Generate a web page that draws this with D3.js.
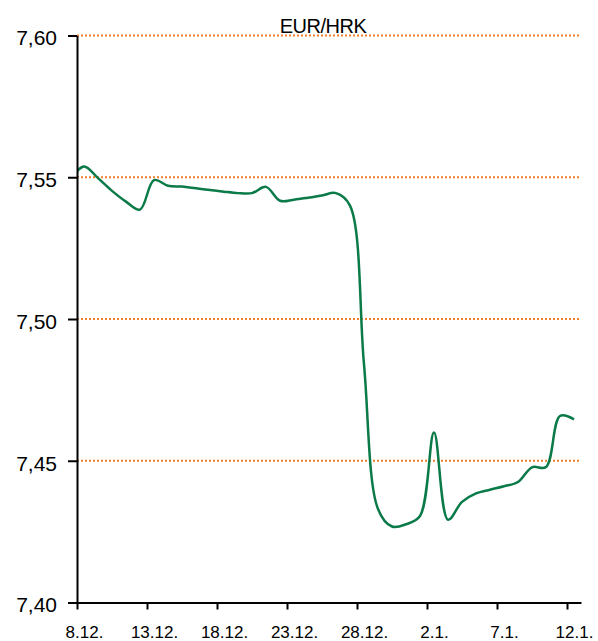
<!DOCTYPE html>
<html>
<head>
<script src="https://d3js.org/d3.v7.min.js"></script>
<style>
  body { margin: 0; background: #fff; font-family: 'Liberation Sans', Arial, sans-serif; }
</style>
</head>
<body>
<div id="container"></div>
<script>
// daily EUR/HRK values, one per calendar day (first one runs off the left edge)
const dates = [
  "2017-12-07",
  "2017-12-08", "2017-12-09", "2017-12-10", "2017-12-11", "2017-12-12", "2017-12-13",
  "2017-12-14", "2017-12-15", "2017-12-16", "2017-12-17", "2017-12-18", "2017-12-19",
  "2017-12-20", "2017-12-21", "2017-12-22", "2017-12-23", "2017-12-24", "2017-12-25",
  "2017-12-26", "2017-12-27", "2017-12-28", "2017-12-29", "2017-12-30", "2017-12-31",
  "2018-01-01", "2018-01-02", "2018-01-03", "2018-01-04", "2018-01-05", "2018-01-06",
  "2018-01-07", "2018-01-08", "2018-01-09", "2018-01-10", "2018-01-11", "2018-01-12"
];
const rates = [
  7.5490,
  7.5538, 7.5497, 7.5452, 7.5414, 7.5386, 7.5490,
  7.5470, 7.5467, 7.5461, 7.5455, 7.5449, 7.5444,
  7.5444, 7.5466, 7.5417, 7.5421, 7.5428, 7.5436,
  7.5444, 7.5400, 7.4840, 7.4330, 7.4268, 7.4276,
  7.4305, 7.4600, 7.4292, 7.4355, 7.4385, 7.4398,
  7.4410, 7.4425, 7.4477, 7.4478, 7.4658, 7.4646
];
const tickDates = ["2017-12-08", "2017-12-13", "2017-12-18", "2017-12-23", "2017-12-28", "2018-01-02", "2018-01-07", "2018-01-12"];
const tickLabels = ["8.12.", "13.12.", "18.12.", "23.12.", "28.12.", "2.1.", "7.1.", "12.1."];
const yTicks = [7.40, 7.45, 7.50, 7.55, 7.60];
const title = "EUR/HRK";

const width = 598, height = 641;
const plotLeft = 77, plotRight = 581, plotTop = 35.5, plotBottom = 602.5;

const parse = d3.timeParse("%Y-%m-%d");
const data = dates.map((d, i) => ({ date: d3.timeHour.offset(parse(d), 12), value: rates[i] }));

const svg = d3.select("#container").append("svg")
  .attr("width", width)
  .attr("height", height);

const x = d3.scaleTime()
  .domain([parse("2017-12-08"), parse("2018-01-13")])
  .range([plotLeft, plotRight]);
const y = d3.scaleLinear()
  .domain([7.40, 7.60])
  .range([plotBottom, plotTop]);

svg.append("clipPath")
  .attr("id", "plot")
  .append("rect")
  .attr("x", plotLeft)
  .attr("y", 0)
  .attr("width", plotRight - plotLeft)
  .attr("height", height);

// dotted gridlines
svg.append("g")
  .selectAll("line")
  .data(yTicks.filter(v => v > 7.40))
  .join("line")
  .attr("x1", plotLeft)
  .attr("x2", plotRight)
  .attr("y1", d => y(d))
  .attr("y2", d => y(d))
  .attr("stroke", "#f07d28")
  .attr("stroke-width", 2)
  .attr("stroke-dasharray", "2,2");

const line = d3.line()
  .x(d => x(d.date))
  .y(d => y(d.value))
  .curve(d3.curveCatmullRom.alpha(0.5));

svg.append("path")
  .datum(data)
  .attr("clip-path", "url(#plot)")
  .attr("fill", "none")
  .attr("stroke", "#0a7a48")
  .attr("stroke-width", 2.5)
  .attr("d", line);

// y axis
const yAxis = svg.append("g")
  .attr("transform", `translate(${plotLeft},0)`)
  .call(d3.axisLeft(y)
    .tickValues(yTicks)
    .tickSize(9)
    .tickSizeOuter(0)
    .tickPadding(11)
    .tickFormat(d => d3.format(".2f")(d).replace(".", ",")));
yAxis.selectAll("path, line").attr("stroke", "#000").attr("stroke-width", 2);
yAxis.selectAll("text")
  .attr("font-family", "'Liberation Sans', Arial, sans-serif")
  .attr("font-size", 21)
  .attr("fill", "#000")
  .attr("dy", "0.45em");

// x axis, labels sit in the middle of the day slot
const dayWidth = x(parse("2017-12-09")) - x(parse("2017-12-08"));
const xAxis = svg.append("g")
  .attr("transform", `translate(0,${plotBottom})`)
  .call(d3.axisBottom(x)
    .tickValues(tickDates.map(parse))
    .tickSize(7)
    .tickSizeOuter(0)
    .tickFormat((d, i) => tickLabels[i]));
xAxis.selectAll("path, line").attr("stroke", "#000").attr("stroke-width", 2);
xAxis.selectAll("text")
  .attr("font-family", "'Liberation Sans', Arial, sans-serif")
  .attr("font-size", 17)
  .attr("fill", "#000")
  .attr("x", dayWidth / 2)
  .attr("y", 23);

svg.append("text")
  .attr("x", 323)
  .attr("y", 33)
  .attr("text-anchor", "middle")
  .attr("font-size", 20)
  .attr("letter-spacing", -0.5)
  .text(title);
</script>
</body>
</html>
